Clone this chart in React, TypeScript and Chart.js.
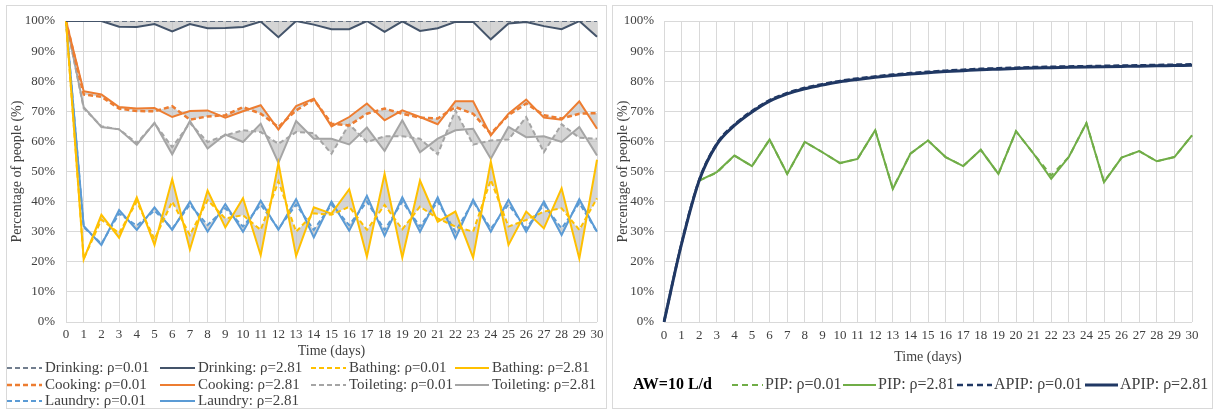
import React, { useEffect, useRef } from 'react';
import { Chart, registerables } from 'chart.js';
Chart.register(...registerables);

const SERIF = '"Liberation Serif", "Times New Roman", serif';
const TXT = '#404040';
const GRID = '#D9D9D9';
const FILL = 'rgba(190,190,190,0.65)';

const days = ['0','1','2','3','4','5','6','7','8','9','10','11','12','13','14','15','16','17','18','19','20','21','22','23','24','25','26','27','28','29','30'];

// Left panel series (%)
const drinking001 = [100,100,100,100,100,100,100,100,100,100,100,100,100,100,100,100,100,100,100,100,100,100,100,100,100,100,100,100,100,100,100];
const drinking281 = [100,100,100,98.1,98,99,96.5,99,97.6,97.7,98,99.8,94.6,100,98.8,97.3,97.3,100,96.4,99.9,96.7,97.6,99.7,99.7,93.9,99.2,99.7,98.3,97.3,100,94.8];
const bathing001 = [100,21,34,29.5,40,27.5,40,28.9,40.5,34.4,35.5,30.6,46.7,30,36.1,35.6,38.3,30.6,38.9,30.8,38.3,34.4,31.7,30,47.2,31.7,33.9,36.7,37.8,30.6,41.1];
const bathing281 = [100,20.8,35.6,28,41.4,25.6,47.4,24.1,43.7,31.4,41.1,22.2,52.8,21.9,38.1,36,44.1,21.7,49.2,21.4,47,33.3,36.7,21.4,53.3,25.6,36.7,31.1,44.4,21.1,53.9];
const cooking001 = [100,75.6,74.8,70.9,70.1,70,71.7,67.2,68.3,68.7,71.4,69.2,64.8,70.3,73.9,65.9,65.3,69.2,70.9,69.2,67.9,67.6,71.4,69.2,62.6,68.7,72.6,68.7,67.6,69.2,69.4];
const cooking281 = [100,76.7,75.6,71.4,70.9,71.1,68.1,70.1,70.3,67.9,70,72,63.9,71.7,74.2,65,68.1,72.6,67,70.3,68.1,65.7,73.3,73.3,62,69.2,73.9,67.9,67.2,73.3,64.2];
const toileting001 = [100,71,65,64,59.5,66,58.1,66.1,59.8,62,63.7,63.1,59.2,63.1,62.8,55.9,65.7,59.8,61.7,61.7,60.9,55.7,70.3,58.9,60.3,60.6,68.1,56.4,65.7,61.2,60.9];
const toileting281 = [100,71.4,64.8,64,58.9,66.2,55.7,66.8,57.6,62.3,59.8,65.9,52.9,66.8,60.9,60.9,59,64.6,56.8,67,56.4,60.9,63.7,64.2,54.2,64.8,61.4,61.7,59.8,64.8,55.3];
const laundry001 = [100,31.5,26,36,32,37,31,39,32.2,37.8,31.7,39,31,39,30.6,39,32.2,40,30.6,40,31.7,40,30,40,31,39,31.1,39,31.1,39.5,30];
const laundry281 = [100,31.9,25.6,37.2,30.6,38.1,30.6,40,30,39.2,30,40.3,30.6,40.8,28.1,40,30.3,41.9,28.6,41.4,30,41.4,27.8,40.6,30,40.6,30,40,28.9,40.8,30];

// Right panel series (%)
const pip001 = [null,null,47,49.6,55.3,51.8,60.6,49.2,59.8,56.4,52.8,54.2,63.7,44.4,55.9,60.3,54.8,51.8,57.2,49.2,63.4,55.9,48.7,54.8,66.1,46.6,54.6,56.8,53.4,54.8,62];
const pip281 = [null,null,47,49.8,55.3,51.8,60.6,49.2,59.8,56.4,52.8,54.2,63.7,44.2,55.9,60.3,54.8,51.8,57.2,49.2,63.4,55.9,47.6,54.8,66.1,46.4,54.6,56.8,53.4,54.8,62];
const apip001 = [0,26.2,47.2,59.3,65.6,70.1,73.7,76.1,77.8,79,80.1,80.9,81.6,82.2,82.7,83.1,83.5,83.8,84.1,84.3,84.5,84.7,84.8,84.9,85,85.1,85.2,85.3,85.4,85.5,85.6];
const apip281 = [0,26,47,59,65.3,69.8,73.4,75.8,77.5,78.7,79.8,80.6,81.3,81.9,82.4,82.8,83.2,83.5,83.8,84,84.2,84.4,84.5,84.6,84.7,84.8,84.9,85,85.1,85.2,85.3];

const C_DRINK = '#44546A';
const C_BATH = '#FFC000';
const C_COOK = '#ED7D31';
const C_TOIL = '#A5A5A5';
const C_LAUN = '#5B9BD5';
const C_PIP = '#70AD47';
const C_APIP = '#203864';

function lineDs(label: string, data: any[], color: string, dashed: boolean, dash: number[], width = 2, fill: any = false, extra: any = {}) {
  return {
    label, data, borderColor: color, backgroundColor: FILL, borderWidth: width,
    borderDash: dashed ? dash : [], pointRadius: 0, pointHoverRadius: 0,
    fill, tension: 0, spanGaps: false, ...extra,
  };
}

function legendPlugin(opts: any) {
  return {
    id: 'gridLegend',
    afterDraw(chart: any) {
      const ctx = chart.ctx;
      ctx.save();
      if (opts.prefix) {
        ctx.font = opts.prefix.font;
        ctx.fillStyle = '#000';
        ctx.textBaseline = 'middle';
        ctx.textAlign = 'left';
        ctx.fillText(opts.prefix.text, opts.prefix.x, opts.prefix.y);
      }
      chart.data.datasets.forEach((ds: any, i: number) => {
        const col = i % opts.cols.length;
        const row = Math.floor(i / opts.cols.length);
        const c = opts.cols[col];
        const y = opts.rows[row];
        ctx.beginPath();
        ctx.strokeStyle = ds.borderColor;
        ctx.lineWidth = ds.borderWidth;
        ctx.setLineDash(ds.borderDash && ds.borderDash.length ? opts.legendDash : []);
        ctx.moveTo(c.x1, y);
        ctx.lineTo(c.x2, y);
        ctx.stroke();
        ctx.setLineDash([]);
        ctx.font = opts.font;
        ctx.fillStyle = TXT;
        ctx.textBaseline = 'middle';
        ctx.textAlign = 'left';
        ctx.fillText(ds.label, c.tx, y);
      });
      ctx.restore();
    },
  };
}

function baseScales(yWidth: number, yPad: number, yTitlePad: number, xHeight: number, xPad: number, xTitlePad: number) {
  return {
    x: {
      type: 'category',
      offset: false,
      grid: { color: GRID, drawTicks: false, lineWidth: 1 },
      border: { display: false },
      ticks: { color: TXT, font: { family: SERIF, size: 13 }, padding: xPad, maxRotation: 0, autoSkip: false },
      title: { display: true, text: 'Time (days)', color: TXT, font: { family: SERIF, size: 14 }, padding: { top: 0, bottom: xTitlePad } },
      afterFit: (s: any) => { s.height = xHeight; },
    },
    y: {
      min: 0, max: 100,
      grid: { color: GRID, drawTicks: false, lineWidth: 1 },
      border: { display: false },
      ticks: { stepSize: 10, color: TXT, font: { family: SERIF, size: 13 }, padding: yPad, callback: (v: any) => v + '%' },
      title: { display: true, text: 'Percentage of people (%)', color: TXT, font: { family: SERIF, size: 14 }, padding: { top: yTitlePad, bottom: 0 } },
      afterFit: (s: any) => { s.width = yWidth; },
    },
  };
}

function LeftChart() {
  const ref = useRef<HTMLCanvasElement>(null);
  useEffect(() => {
    const dash = [5, 3];
    const chart = new Chart(ref.current as HTMLCanvasElement, {
      type: 'line',
      data: {
        labels: days,
        datasets: [
          lineDs('Drinking: ρ=0.01', drinking001, C_DRINK, true, dash, 1.5),
          lineDs('Drinking: ρ=2.81', drinking281, C_DRINK, false, dash, 2, '-1'),
          lineDs('Bathing: ρ=0.01', bathing001, C_BATH, true, dash),
          lineDs('Bathing: ρ=2.81', bathing281, C_BATH, false, dash, 2, '-1'),
          lineDs('Cooking: ρ=0.01', cooking001, C_COOK, true, dash, 2.5),
          lineDs('Cooking: ρ=2.81', cooking281, C_COOK, false, dash, 2, '-1'),
          lineDs('Toileting: ρ=0.01', toileting001, C_TOIL, true, dash),
          lineDs('Toileting: ρ=2.81', toileting281, C_TOIL, false, dash, 2, '-1'),
          lineDs('Laundry: ρ=0.01', laundry001, C_LAUN, true, dash),
          lineDs('Laundry: ρ=2.81', laundry281, C_LAUN, false, dash, 2, '-1'),
        ],
      },
      options: {
        animation: false,
        responsive: false,
        devicePixelRatio: 1,
        layout: { padding: { left: 0, right: 13, top: 21, bottom: 48 } },
        scales: baseScales(66, 11, 9, 40, 5, 2) as any,
        plugins: {
          legend: { display: false },
          tooltip: { enabled: false },
          filler: { drawTime: 'beforeDatasetsDraw' },
        } as any,
      },
      plugins: [legendPlugin({
        font: `15px ${SERIF}`,
        legendDash: [5, 3],
        cols: [
          { x1: 7, x2: 42, tx: 45 },
          { x1: 160, x2: 195, tx: 198 },
          { x1: 311, x2: 346, tx: 349 },
          { x1: 455, x2: 489, tx: 492 },
        ],
        rows: [368, 385, 401],
      })],
    });
    return () => chart.destroy();
  }, []);
  return <canvas ref={ref} width={610} height={410} style={{ position: 'absolute', left: 0, top: 0, width: 610, height: 410 }} />;
}

function RightChart() {
  const ref = useRef<HTMLCanvasElement>(null);
  useEffect(() => {
    const chart = new Chart(ref.current as HTMLCanvasElement, {
      type: 'line',
      data: {
        labels: days,
        datasets: [
          lineDs('PIP: ρ=0.01', pip001, C_PIP, true, [6, 5], 2, false, { order: 3 }),
          lineDs('PIP: ρ=2.81', pip281, C_PIP, false, [], 2, false, { order: 2 }),
          lineDs('APIP: ρ=0.01', apip001, C_APIP, true, [6, 3], 2.5, false, { order: 0, cubicInterpolationMode: 'monotone' }),
          lineDs('APIP: ρ=2.81', apip281, C_APIP, false, [], 3, false, { order: 1, cubicInterpolationMode: 'monotone' }),
        ],
      },
      options: {
        animation: false,
        responsive: false,
        devicePixelRatio: 1,
        layout: { padding: { left: 0, right: 21, top: 21, bottom: 42 } },
        scales: baseScales(54, 10, 5, 46, 6, 2) as any,
        plugins: {
          legend: { display: false },
          tooltip: { enabled: false },
        },
      },
      plugins: [legendPlugin({
        font: `16px ${SERIF}`,
        legendDash: [6, 4],
        prefix: { text: 'AW=10 L/d', font: `bold 16px ${SERIF}`, x: 23, y: 385 },
        cols: [
          { x1: 122, x2: 153, tx: 155 },
          { x1: 233, x2: 266, tx: 268 },
          { x1: 347, x2: 382, tx: 384 },
          { x1: 475, x2: 508, tx: 510 },
        ],
        rows: [385],
      })],
    });
    return () => chart.destroy();
  }, []);
  return <canvas ref={ref} width={603} height={410} style={{ position: 'absolute', left: 610, top: 0, width: 603, height: 410 }} />;
}

export default function App() {
  return (
    <div style={{ position: 'absolute', left: 0, top: 0, width: 1213, height: 410, background: '#fff', overflow: 'hidden' }}>
      <LeftChart />
      <RightChart />
      <div style={{ position: 'absolute', left: 6, top: 5, width: 601, height: 404, border: '1px solid #D9D9D9', boxSizing: 'border-box', pointerEvents: 'none' }} />
      <div style={{ position: 'absolute', left: 612, top: 5, width: 601, height: 404, border: '1px solid #D9D9D9', boxSizing: 'border-box', pointerEvents: 'none' }} />
    </div>
  );
}
